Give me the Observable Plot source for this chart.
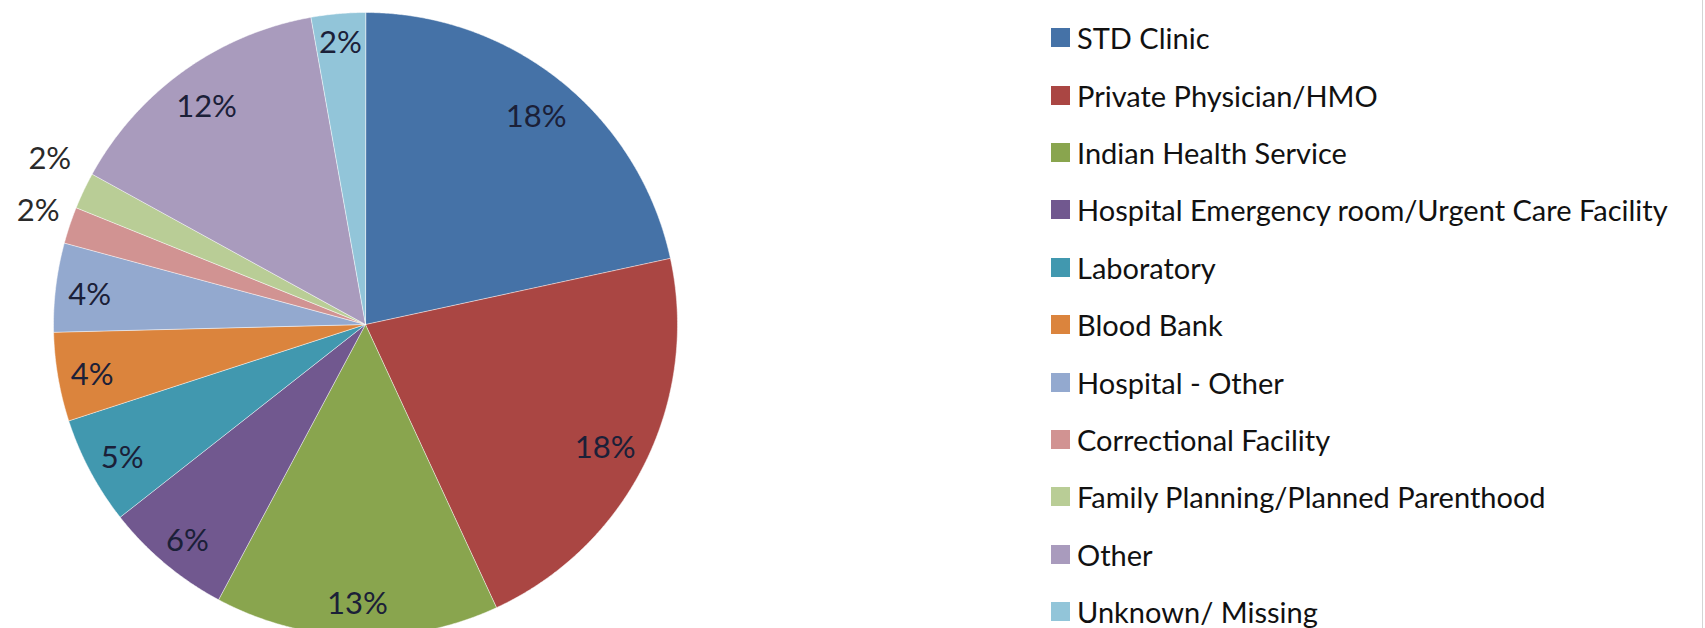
<!DOCTYPE html>
<html><head><meta charset="utf-8">
<script src="https://cdn.jsdelivr.net/npm/d3@7"></script>
<script src="https://cdn.jsdelivr.net/npm/@observablehq/plot@0.6"></script>
<style>
html,body{margin:0;padding:0;background:#fff;}
#wrap{position:relative;width:1705px;height:628px;overflow:hidden;}
#edge{position:absolute;left:1702px;top:0;width:1px;height:628px;background:#d4d4d4;}
#legend{position:absolute;left:1051px;top:9px;font-family:Lato,sans-serif;font-size:29px;color:#111;}
.row{height:57.4px;display:flex;align-items:center;white-space:nowrap;}
.sw{width:19px;height:19px;margin-right:7px;flex:none;}
</style></head><body>
<div id="wrap"><div id="chart"></div><div id="legend"></div><div id="edge"></div></div>
<script>
const categories = ["STD Clinic","Private Physician/HMO","Indian Health Service","Hospital Emergency room/Urgent Care Facility","Laboratory","Blood Bank","Hospital - Other","Correctional Facility","Family Planning/Planned Parenthood","Other","Unknown/ Missing"];
const shares = [21.6, 21.5, 14.7, 6.6, 5.6, 4.6, 4.6, 1.9, 1.9, 14.2, 2.8];
const labels = ["18%","18%","13%","6%","5%","4%","4%","2%","2%","12%","2%"];
const colors = ["#4572A7","#AA4643","#89A54E","#71588F","#4198AF","#DB843D","#93A9CF","#D19392","#B9CD96","#A99BBD","#92C5D9"];

const R = 312, cx = 365, cy = 324, W = 1705, H = 628;
const arcs = d3.pie().sort(null).value(d => d)(shares);
const slicePts = [];
arcs.forEach((a, i) => {
  slicePts.push({cat: categories[i], x: 0, y: 0});
  const n = Math.max(2, Math.ceil((a.endAngle - a.startAngle) / 0.005));
  for (let k = 0; k <= n; k++) {
    const t = a.startAngle + (a.endAngle - a.startAngle) * k / n;
    slicePts.push({cat: categories[i], x: Math.sin(t), y: Math.cos(t)});
  }
});
// label placement: inside labels fit their box near the rim; tiny slices get outside labels
const yMin = -(H - cy - 24) / R;
const labelPts = arcs.map((a, i) => {
  const m = (a.startAngle + a.endAngle) / 2;
  const outside = shares[i] < 2.5;
  let r;
  if (outside) r = 1.12;
  else {
    const hw = 9 * labels[i].length + 3, hh = 12;
    r = (300 - hw * Math.abs(Math.sin(m)) - hh * Math.abs(Math.cos(m))) / R;
  }
  const y = r * Math.cos(m) - (outside ? 0 : 4 / R);
  return {text: labels[i], x: r * Math.sin(m), y: Math.max(y, yMin), outside};
});
// spread neighbouring outside labels apart
const outs = labelPts.filter(d => d.outside);
for (let i = 1; i < outs.length; i++) {
  const a = outs[i - 1], b = outs[i];
  const gap = 52 / R;
  const d = Math.abs(a.y - b.y);
  if (d < gap) {
    const hi = a.y > b.y ? a : b, lo = a.y > b.y ? b : a;
    const mid = (hi.y + lo.y) / 2;
    hi.y = mid + gap / 2 + 9 / R;
    lo.y = mid - gap / 2 + 9 / R;
    lo.x += 4 / R;
  }
}
const chart = Plot.plot({
  width: W, height: H, margin: 0,
  style: {background: "#fff"},
  x: {domain: [-cx / R, (W - cx) / R], range: [0, W], axis: null},
  y: {domain: [-(H - cy) / R, cy / R], range: [H, 0], axis: null},
  color: {domain: categories, range: colors},
  marks: [
    Plot.line(slicePts, {x: "x", y: "y", z: "cat", fill: "cat", stroke: "#fff", strokeOpacity: 0.5, strokeWidth: 1, curve: "linear-closed"}),
    Plot.text(labelPts.filter(d => !d.outside), {x: "x", y: "y", text: "text", fontSize: 31, fontFamily: "Lato", fill: "#1b2038"}),
    Plot.text(labelPts.filter(d => d.outside), {x: "x", y: "y", text: "text", fontSize: 31, fontFamily: "Lato", fill: "#2a2a2a"})
  ]
});
document.getElementById("chart").appendChild(chart);

const legend = document.getElementById("legend");
categories.forEach((c, i) => {
  const row = document.createElement("div");
  row.className = "row";
  const sw = document.createElement("div");
  sw.className = "sw";
  sw.style.background = colors[i];
  const tx = document.createElement("span");
  tx.textContent = c;
  row.appendChild(sw);
  row.appendChild(tx);
  legend.appendChild(row);
});
</script>
</body></html>
